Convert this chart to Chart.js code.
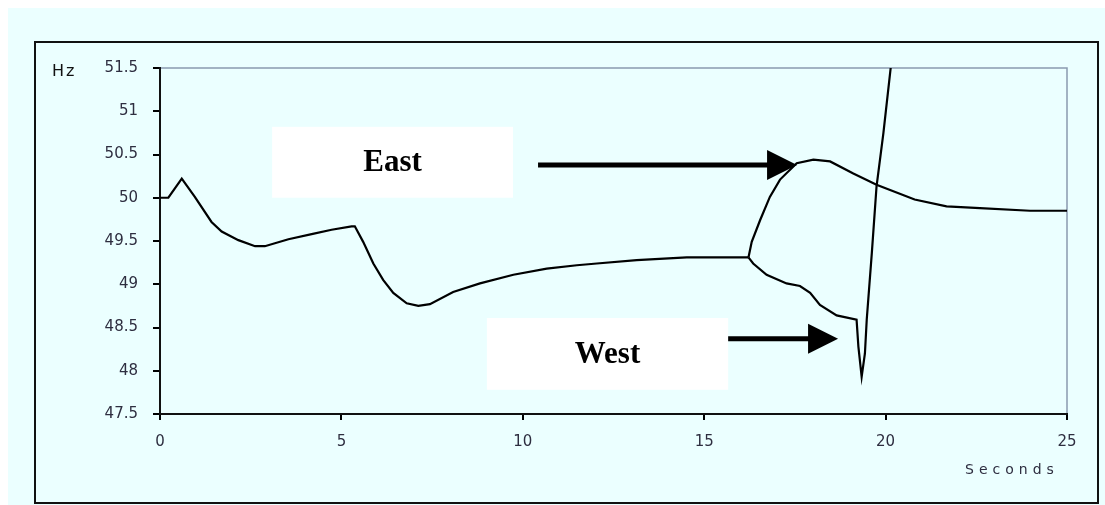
<!DOCTYPE html>
<html>
<head>
<meta charset="utf-8">
<script src="https://cdn.jsdelivr.net/npm/chart.js@4.4.1/dist/chart.umd.min.js"></script>
<style>
  html, body { margin: 0; padding: 0; background: #ffffff; }
  #wrap { width: 1105px; height: 505px; }
</style>
</head>
<body>
<div id="wrap"><canvas id="freq" width="1105" height="505"></canvas></div>
<script>
// System frequency (Hz) against time (s): common trace until the split,
// then the East and West islands.
const trunkTime = [0, 0.23, 0.6, 0.96, 1.42, 1.70, 2.16, 2.62, 2.89, 3.54, 4.18, 4.73, 5.28, 5.37,
                   5.60, 5.88, 6.15, 6.43, 6.80, 7.12, 7.44, 8.08, 8.82, 9.74, 10.66, 11.49, 12.04,
                   13.14, 14.52, 16.22];
const trunkHz   = [50.0, 50.0, 50.22, 50.01, 49.72, 49.61, 49.51, 49.44, 49.44, 49.52, 49.58, 49.63, 49.67, 49.67,
                   49.49, 49.24, 49.05, 48.90, 48.78, 48.75, 48.77, 48.91, 49.01, 49.11, 49.18, 49.22, 49.24,
                   49.28, 49.31, 49.31];

const eastTime = [16.22, 16.31, 16.54, 16.81, 17.09, 17.55, 18.01, 18.47, 19.11, 19.75, 20.8, 21.68, 22.60, 23.98, 25];
const eastHz   = [49.31, 49.49, 49.74, 50.01, 50.21, 50.40, 50.44, 50.42, 50.28, 50.15, 49.98, 49.90, 49.88, 49.85, 49.85];

const westTime = [16.22, 16.35, 16.72, 17.27, 17.64, 17.92, 18.19, 18.65, 19.20, 19.25, 19.34, 19.43, 19.48, 19.62, 19.75, 19.94, 20.14];
const westHz   = [49.31, 49.24, 49.11, 49.01, 48.98, 48.90, 48.76, 48.64, 48.59, 48.28, 47.93, 48.20, 48.59, 49.36, 50.13, 50.75, 51.5];

const xTicks = [0, 5, 10, 15, 20, 25];
const yTicks = [47.5, 48, 48.5, 49, 49.5, 50, 50.5, 51, 51.5];

const labelBoxes = [
  { text: 'East', x0: 3.09, x1: 9.73, y0: 50.82, y1: 50.0 },
  { text: 'West', x0: 9.01, x1: 15.66, y0: 48.61, y1: 47.78 }
];
const arrows = [
  { x0: 10.42, x1: 17.56, y: 50.38 },
  { x0: 15.66, x1: 18.69, y: 48.37 }
];

const toPoints = (ts, vs) => ts.map((t, i) => ({ x: t, y: vs[i] }));

const BG = '#ebffff';

const framePlugin = {
  id: 'frame',
  beforeDraw(chart) {
    const c = chart.ctx;
    c.save();
    c.fillStyle = '#ffffff';
    c.fillRect(0, 0, chart.width, chart.height);
    c.fillStyle = BG;
    c.fillRect(8, 8, chart.width - 8, chart.height - 8);
    c.strokeStyle = '#111111';
    c.lineWidth = 2;
    c.strokeRect(35, 42, 1063, 461);
    // top and right edges of the plot area
    const a = chart.chartArea;
    c.strokeStyle = '#8a9bb0';
    c.lineWidth = 1.5;
    c.beginPath();
    c.moveTo(a.left, a.top);
    c.lineTo(a.right, a.top);
    c.lineTo(a.right, a.bottom);
    c.stroke();
    c.restore();
  },
  afterDraw(chart) {
    const c = chart.ctx;
    const xs = chart.scales.x, ys = chart.scales.y;
    c.save();
    // axis captions
    c.fillStyle = '#111111';
    c.font = '16px "DejaVu Sans"';
    c.textBaseline = 'middle';
    c.textAlign = 'left';
    c.letterSpacing = '2px';
    c.fillText('Hz', 52, 72);
    c.fillStyle = '#2e2e40';
    c.font = '14px "DejaVu Sans"';
    c.letterSpacing = '5px';
    c.fillText('Seconds', 965, 470);
    c.letterSpacing = '0px';

    // labelled boxes
    labelBoxes.forEach(b => {
      const l = xs.getPixelForValue(b.x0), r = xs.getPixelForValue(b.x1);
      const t = ys.getPixelForValue(b.y0), btm = ys.getPixelForValue(b.y1);
      c.fillStyle = '#ffffff';
      c.fillRect(l, t, r - l, btm - t);
      c.fillStyle = '#000000';
      c.font = 'bold 31px "Liberation Serif"';
      c.textAlign = 'center';
      c.textBaseline = 'middle';
      c.fillText(b.text, (l + r) / 2, (t + btm) / 2 + 1);
    });

    // arrows pointing at the two islands
    arrows.forEach(a => {
      const x0 = xs.getPixelForValue(a.x0), x1 = xs.getPixelForValue(a.x1);
      const y = ys.getPixelForValue(a.y);
      const head = 30, half = 15;
      c.strokeStyle = '#000000';
      c.lineWidth = 5;
      c.beginPath();
      c.moveTo(x0, y);
      c.lineTo(x1 - head + 2, y);
      c.stroke();
      c.fillStyle = '#000000';
      c.beginPath();
      c.moveTo(x1, y);
      c.lineTo(x1 - head, y - half);
      c.lineTo(x1 - head, y + half);
      c.closePath();
      c.fill();
    });
    c.restore();
  }
};

const lineStyle = {
  showLine: true,
  borderColor: '#000000',
  borderWidth: 2.2,
  pointRadius: 0,
  tension: 0,
  fill: false
};

new Chart(document.getElementById('freq'), {
  type: 'scatter',
  data: {
    datasets: [
      Object.assign({ label: 'Common', data: toPoints(trunkTime, trunkHz) }, lineStyle),
      Object.assign({ label: 'East', data: toPoints(eastTime, eastHz) }, lineStyle),
      Object.assign({ label: 'West', data: toPoints(westTime, westHz) }, lineStyle)
    ]
  },
  options: {
    responsive: false,
    animation: false,
    events: [],
    layout: { padding: { left: 0, top: 68, right: 38, bottom: 0 } },
    plugins: { legend: { display: false }, tooltip: { enabled: false } },
    scales: {
      x: {
        type: 'linear',
        min: xTicks[0],
        max: xTicks[xTicks.length - 1],
        afterFit(scale) { scale.height = 91; },
        afterBuildTicks(scale) { scale.ticks = xTicks.map(v => ({ value: v })); },
        ticks: {
          color: '#2e2e40',
          font: { family: '"DejaVu Sans"', size: 15 },
          padding: 13,
          maxRotation: 0,
          callback: v => String(v)
        },
        grid: { drawOnChartArea: false, drawTicks: true, tickLength: 6, color: '#000000', lineWidth: 2 },
        border: { display: true, color: '#111111', width: 2 }
      },
      y: {
        type: 'linear',
        min: yTicks[0],
        max: yTicks[yTicks.length - 1],
        afterFit(scale) { scale.width = 160; },
        afterBuildTicks(scale) { scale.ticks = yTicks.map(v => ({ value: v })); },
        ticks: {
          color: '#2e2e40',
          font: { family: '"DejaVu Sans"', size: 15 },
          padding: 15,
          callback: v => String(v)
        },
        grid: { drawOnChartArea: false, drawTicks: true, tickLength: 7, color: '#000000', lineWidth: 2 },
        border: { display: true, color: '#111111', width: 2 }
      }
    }
  },
  plugins: [framePlugin]
});
</script>
</body>
</html>
